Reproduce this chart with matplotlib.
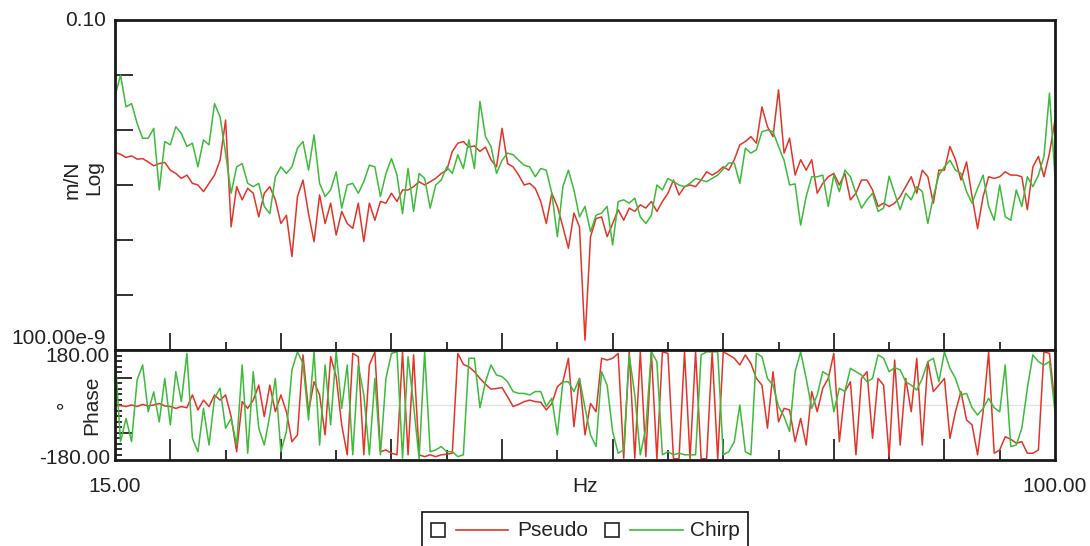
import numpy as np
import matplotlib.pyplot as plt
from matplotlib.patches import Rectangle
from matplotlib.lines import Line2D

plt.rcParams['font.family'] = ['Liberation Sans', 'DejaVu Sans']

# frequency bins, Hz
freq = np.arange(15.0, 100.25, 0.5)

# magnitude, log10(m/N)
pseudo_mag = [
    -3.41, -3.44, -3.50, -3.47, -3.53, -3.52, -3.58, -3.65, -3.61, -3.59,
    -3.73, -3.79, -3.88, -3.82, -3.97, -4.00, -4.12, -3.97, -3.82, -3.55,
    -2.82, -4.76, -4.03, -4.27, -4.06, -4.15, -4.58, -4.15, -4.03, -4.27,
    -4.70, -4.55, -5.30, -4.21, -3.91, -4.52, -5.03, -4.18, -4.70, -4.33,
    -4.91, -4.48, -4.70, -4.79, -4.33, -5.03, -4.33, -4.64, -4.30, -4.33,
    -4.15, -4.30, -4.09, -4.09, -4.03, -3.94, -4.00, -3.94,
    -3.88, -3.79, -3.73, -3.39, -3.24, -3.21, -3.31, -3.29, -3.39, -3.31,
    -3.54, -3.67, -2.97, -3.61, -3.67, -3.82, -4.00, -3.97, -4.06, -4.30,
    -4.70, -4.15, -4.39, -4.76, -5.15, -4.51, -4.76, -6.82, -4.94, -4.61,
    -4.58, -4.94, -4.70, -4.45, -4.64, -4.42, -4.48, -4.36, -4.42, -4.30,
    -4.48, -4.30, -4.15, -3.91, -4.18, -4.03, -4.00, -4.03, -3.91, -3.76,
    -3.82, -3.76, -3.67, -3.73, -3.54, -3.27, -3.21,
    -3.12, -3.24, -2.58, -2.94, -3.12, -2.27, -3.42, -3.15, -3.82, -3.54,
    -3.73, -3.54, -4.15, -3.97, -3.85, -3.79, -4.00, -3.79, -4.27, -4.15,
    -3.91, -3.91, -4.09, -4.39, -4.33, -4.39, -4.33, -4.21, -4.03, -3.85,
    -4.15, -3.73, -3.85, -4.33, -3.73, -3.73, -3.30, -3.54, -3.91, -3.58,
    -4.21, -4.79, -4.21, -3.85, -3.88, -3.85, -3.76, -3.82, -3.82, -3.85,
    -4.45, -3.67, -3.48, -3.85, -3.42, -2.82,
]
chirp_mag = [
    -2.39, -2.00, -2.58, -2.52, -2.88, -3.15, -3.15, -2.97, -4.09, -3.21,
    -3.27, -2.94, -3.06, -3.30, -3.24, -3.67, -3.18, -3.27, -2.52, -2.76,
    -3.42, -4.15, -3.67, -3.61, -3.97, -4.03, -3.97, -4.39, -4.52, -3.85,
    -3.67, -3.79, -3.67, -3.33, -3.21, -3.73, -3.09, -3.97, -4.21, -4.09,
    -3.76, -4.42, -4.00, -3.97, -4.15, -3.94, -3.64, -3.67, -4.21, -3.79,
    -3.52, -3.82, -4.52, -3.70, -4.48, -3.79, -3.88, -4.42,
    -4.00, -3.91, -3.67, -3.79, -3.45, -3.70, -3.18, -3.70, -2.48, -3.12,
    -3.30, -3.79, -3.55, -3.42, -3.45, -3.55, -3.64, -3.67, -3.85, -3.70,
    -3.73, -4.15, -4.94, -4.03, -3.73, -4.09, -4.58, -4.39, -4.85, -4.55,
    -4.51, -4.39, -5.09, -4.30, -4.27, -4.33, -4.24, -4.58, -4.70, -4.55,
    -4.00, -4.09, -3.88, -3.94, -4.00, -4.03, -3.97, -3.88, -3.91, -3.94,
    -3.88, -3.82, -3.71, -3.60, -3.60, -3.97, -3.33,
    -3.42, -3.36, -3.03, -3.00, -3.03, -3.30, -3.55, -4.00, -3.98, -4.73,
    -4.21, -3.85, -3.85, -3.82, -4.39, -3.82, -4.12, -3.73, -3.85, -4.15,
    -4.42, -4.27, -4.15, -4.48, -4.42, -3.84, -4.15, -4.45, -4.15, -4.27,
    -4.03, -4.12, -4.70, -4.21, -3.82, -3.67, -3.55, -3.73, -3.79, -4.12,
    -4.33, -4.06, -3.82, -4.39, -4.64, -4.00, -4.58, -4.64, -4.09, -4.39,
    -3.85, -4.03, -3.82, -3.48, -2.33, -3.85,
]

# phase, degrees
pseudo_phase = [
    -2, -2, -5, 0, -5, 2, -3, 0, 5, -3,
    -5, -11, -5, -9, 33, -16, 16, -5, 33, 16,
    33, -38, -153, 11, -11, 16, 65, -38, 65, -22,
    33, -22, -120, -98, 164, -22, 76, 33, -98, 158,
    93, -65, -163, 169, 158, -163, 131, 174, -153, -147,
    -158, -163, 174, -163, 164, -163, -169, -163,
    -169, -163, -161, -158, 169, 133, 125, 109, 87, 68,
    52, 54, 57, 27, -5, 2, 11, 16, 11, 9,
    -16, 5, 60, 76, 153, -71, 87, -98, 5, -22,
    153, 147, 153, 169, -174, 174, -174, 174, -169, 174,
    -176, 174, 169, -176, -176, 174, -176, 174, -176, -176,
    174, -176, 174, 164, 153, 131, 164,
    136, 87, 65, -76, 109, -55, -11, -16, -120, -44,
    -131, 44, -22, 55, 87, 169, -120, 44, 76, -163,
    87, 109, -109, 87, 65, -169, 147, -131, 87, -22,
    153, -131, 142, 44, 65, 87, -109, -22, 44, -49,
    -65, -163, -22, 174, -158, -147, -104, -112, -125, -120,
    -158, -158, -147, 174, 169, 0,
]
chirp_phase = [
    164, -120, -44, -120, 82, 131, -22, 43, -55, 87,
    -65, 109, 11, 169, -109, -153, -11, -131, 22, 55,
    -76, -44, -131, 131, -158, 109, -76, -131, -33, 87,
    -153, -87, 115, 174, 136, -49, 174, -131, 131, -65,
    174, -11, 131, -163, 131, 33, -163, 87, -163, 87,
    169, 174, -174, 158, 0, -176, 174, -153,
    -147, -136, -153, -153, -169, -163, 153, 153, -9, 76,
    131, 98, 93, 76, 44, 38, 38, 33, 44, 44,
    -5, 22, -98, 76, 76, 44, 87, -9, -98, -136,
    109, 65, -87, -158, -147, 164, 33, -163, -76, 174,
    142, -163, -153, -163, -158, -163, -163, -163, 164, 174,
    174, 174, -163, -153, -120, 0, -153,
    -163, 169, 158, 87, 65, -5, -38, -87, 109, 174,
    87, -11, 33, 109, 98, -22, 55, 44, 120, 109,
    98, 76, 87, 164, 153, 109, 122, 115, 76, 65,
    49, 87, 142, 153, 76, 174, 120, 87, 33, 38,
    -9, -33, -11, 22, -9, -22, 131, -136, -131, -76,
    55, 164, 142, 131, 142, -22,
]

red = '#e3342a'
green = '#3dbb3a'

W, H = 1090, 546
fig = plt.figure(figsize=(W / 100, H / 100), dpi=100)


def box(x0, y0, x1, y1):
    return [x0 / W, 1 - y1 / H, (x1 - x0) / W, (y1 - y0) / H]


ax_mag = fig.add_axes(box(115, 20, 1055, 350))
ax_ph = fig.add_axes(box(115, 350, 1055, 460))

ax_mag.plot(freq, 10 ** np.array(pseudo_mag), color=red, lw=1.1)
ax_mag.plot(freq, 10 ** np.array(chirp_mag), color=green, lw=1.1)
ax_mag.set_yscale('log')
ax_mag.set_ylim(1e-7, 0.1)
ax_mag.set_yticks([1e-6, 1e-5, 1e-4, 1e-3, 1e-2])
ax_mag.yaxis.set_minor_locator(plt.NullLocator())

ax_ph.axhline(0, color='#e2e2e2', lw=1, zorder=0)
ax_ph.plot(freq, pseudo_phase, color=red, lw=1.1)
ax_ph.plot(freq, chirp_phase, color=green, lw=1.1)
ax_ph.set_ylim(-180, 180)
ax_ph.set_yticks([-90, 90])
ax_ph.set_yticks(np.arange(-162, 180, 18), minor=True)

for ax in (ax_mag, ax_ph):
    ax.set_xlim(15, 100)
    ax.set_xticks(np.arange(20, 100, 10))
    ax.set_xticks(np.arange(25, 100, 10), minor=True)
    ax.tick_params(which='both', direction='in', top=False, right=False,
                   labelleft=False, labelbottom=False, color='#222222', width=1.3)
    for s in ax.spines.values():
        s.set_linewidth(2)
        s.set_color('#1a1a1a')

ax_mag.tick_params(axis='y', which='major', length=13)
ax_mag.tick_params(axis='x', which='major', length=12)
ax_mag.tick_params(axis='x', which='minor', length=6)
ax_ph.tick_params(axis='y', which='major', length=12)
ax_ph.tick_params(axis='y', which='minor', length=5)
ax_ph.tick_params(axis='x', which='major', length=15)
ax_ph.tick_params(axis='x', which='minor', length=7)

fs = 15
txt = dict(fontsize=fs, color='#222222')
fig.text(106 / W, 1 - 20 / H, '0.10', ha='right', va='center', **txt)
fig.text(106 / W, 1 - 339 / H, '100.00e-9', ha='right', va='center', **txt)
fig.text(72 / W, 1 - 180 / H, 'm/N', rotation=90, ha='center', va='center', **txt)
fig.text(94 / W, 1 - 178 / H, 'Log', rotation=90, ha='center', va='center', **txt)
fig.text(110 / W, 1 - 357 / H, '180.00', ha='right', va='center', **txt)
fig.text(110 / W, 1 - 459 / H, '-180.00', ha='right', va='center', **txt)
fig.text(92 / W, 1 - 405 / H, 'Phase', rotation=90, ha='center', va='center', **txt)
fig.text(66 / W, 1 - 405 / H, '°', rotation=90, ha='center', va='center', **txt)
fig.text(115 / W, 1 - 487 / H, '15.00', ha='center', va='center', **txt)
fig.text(1055 / W, 1 - 487 / H, '100.00', ha='center', va='center', **txt)
fig.text(585 / W, 1 - 487 / H, 'Hz', ha='center', va='center', **txt)

# legend box below the axes
fig.add_artist(Rectangle((422 / W, 1 - 560 / H), (748 - 422) / W, (560 - 512) / H,
                         transform=fig.transFigure, fill=False, lw=1.3,
                         edgecolor='#222222'))
ly = 1 - 530 / H
for sq_x, x0, x1, tx, col, name in [(438, 456, 508, 517, red, 'Pseudo'),
                                     (612, 630, 683, 690, green, 'Chirp')]:
    fig.add_artist(Rectangle(((sq_x - 7) / W, ly - 7 / H), 14 / W, 14 / H,
                             transform=fig.transFigure, fill=False, lw=1.2,
                             edgecolor='#222222'))
    fig.add_artist(Line2D([x0 / W, x1 / W], [ly, ly], transform=fig.transFigure,
                          color=col, lw=1.2))
    fig.text(tx / W, ly, name, ha='left', va='center', **txt)

fig.savefig('out.png', dpi=100)
